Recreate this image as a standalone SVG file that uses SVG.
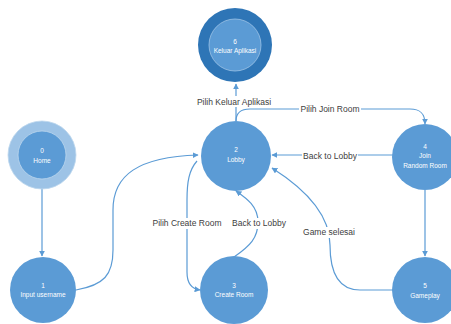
<svg xmlns="http://www.w3.org/2000/svg" width="451" height="324" viewBox="0 0 451 324">
<style>
.node{fill:#5B9BD5;}
.ntxt{font-family:"Liberation Sans",Arial,sans-serif;font-size:6.5px;fill:#FFFFFF;text-anchor:middle;}
.conn{fill:none;stroke:#5B9BD5;stroke-width:1.2;marker-end:url(#arr);}
.lbl{font-family:"Liberation Sans",Arial,sans-serif;font-size:8.5px;fill:#404040;text-anchor:middle;}
.lbg{fill:#FFFFFF;}
</style>
<defs>
<marker id="arr" viewBox="0 0 10 10" refX="9" refY="5" markerWidth="6" markerHeight="6" orient="auto" markerUnits="userSpaceOnUse">
<path d="M0,0 L10,5 L0,10 z" fill="#5B9BD5"/>
</marker>
</defs>
<rect width="451" height="324" fill="#FFFFFF"/>
<g id="connectors">
<path class="conn" d="M42 189 L42 256"/>
<path class="conn" d="M76 290 C 104 285, 113 275, 113 250 L 113 210 C 113 175, 138 157, 198 155"/>
<path class="conn" d="M197 161 C 189 170, 187 182, 187 200 L 187 272 C 187 284, 192 289, 200 290"/>
<path class="conn" d="M234 257 C 250 246, 258 238, 258 222 C 258 206, 246 198, 236 191"/>
<path class="conn" d="M393 290 L 360 290 C 338 290, 330 272, 330 245 C 330 212, 302 187, 272 168"/>
<path class="conn" d="M393 155 L 272 155"/>
<path class="conn" d="M236 121 C 236 113, 240 109, 250 109 L 410 109 C 420 109, 425 113, 425 124"/>
<path class="conn" d="M236 121 L236 84"/>
<path class="conn" d="M425 190 L425 256"/>
</g>
<g id="labels">
<rect class="lbg" x="196" y="96" width="77" height="11"/>
<text class="lbl" x="234" y="105">Pilih Keluar Aplikasi</text>
<rect class="lbg" x="299" y="103" width="62" height="11"/>
<text class="lbl" x="330" y="112">Pilih Join Room</text>
<rect class="lbg" x="302" y="150" width="56" height="11"/>
<text class="lbl" x="330" y="159">Back to Lobby</text>
<rect class="lbg" x="151" y="218" width="72" height="11"/>
<text class="lbl" x="187" y="226">Pilih Create Room</text>
<rect class="lbg" x="231" y="218" width="56" height="11"/>
<text class="lbl" x="259" y="226">Back to Lobby</text>
<rect class="lbg" x="302" y="227" width="54" height="11"/>
<text class="lbl" x="329" y="235">Game selesai</text>
</g>
<g id="node6">
<circle cx="235" cy="45" r="37" fill="#2E75B6"/>
<circle cx="235" cy="45" r="26" fill="#5B9BD5" stroke="#9DC3E6" stroke-width="0.8"/>
<text class="ntxt" x="235" y="44">6</text>
<text class="ntxt" x="235" y="53">Keluar Aplikasi</text>
</g>
<g id="node0">
<circle cx="42" cy="155" r="34" fill="#9DC3E6" stroke="#BDD7EE" stroke-width="0.8"/>
<circle cx="42" cy="155" r="24" fill="#5B9BD5" stroke="#BDD7EE" stroke-width="0.8"/>
<text class="ntxt" x="42" y="153">0</text>
<text class="ntxt" x="42" y="163">Home</text>
</g>
<g id="node1">
<circle class="node" cx="43" cy="290" r="33"/>
<text class="ntxt" x="43" y="288">1</text>
<text class="ntxt" x="43" y="297">Input username</text>
</g>
<g id="node2">
<circle class="node" cx="236" cy="156" r="35"/>
<text class="ntxt" x="236" y="152">2</text>
<text class="ntxt" x="236" y="162">Lobby</text>
</g>
<g id="node3">
<circle class="node" cx="234" cy="290" r="34"/>
<text class="ntxt" x="234" y="288">3</text>
<text class="ntxt" x="234" y="297">Create Room</text>
</g>
<g id="node4">
<circle class="node" cx="425" cy="157" r="33"/>
<text class="ntxt" x="425" y="149">4</text>
<text class="ntxt" x="425" y="158">Join</text>
<text class="ntxt" x="425" y="168">Random Room</text>
</g>
<g id="node5">
<circle class="node" cx="425" cy="290" r="33"/>
<text class="ntxt" x="425" y="288">5</text>
<text class="ntxt" x="425" y="298">Gameplay</text>
</g>
</svg>
